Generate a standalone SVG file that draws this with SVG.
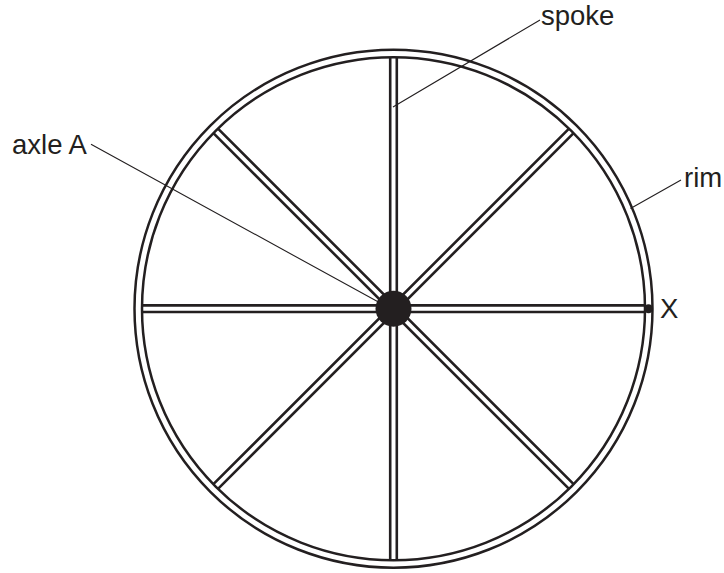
<svg xmlns="http://www.w3.org/2000/svg" width="724" height="573" viewBox="0 0 724 573">
<style>
.r{fill:none;stroke:#231f20;stroke-width:2.5}
.s{stroke:#231f20;stroke-width:2.6;fill:none}
.l{stroke:#231f20;stroke-width:1.1;fill:none}
text{font-family:"Liberation Sans",Arial,sans-serif;font-size:27.5px;fill:#231f20}
</style>
<rect width="724" height="573" fill="#fff"/>
<g id="rim"><circle class="r" cx="393.5" cy="308.7" r="259"/><circle class="r" cx="393.5" cy="308.7" r="251.5"/></g>
<g id="spokes">
<path class="s" d="M390.2 57.2V560.2M396.8 57.2V560.2M142 305.4H645M142 312H645"/>
<path class="s" d="M218 128.6L573.6 484.2M213.4 133.2L569 488.8M569 128.6L213.4 484.2M573.6 133.2L218 488.8"/>
</g>
<g id="connectors">
<path class="l" d="M91 144.3L393 310M540 20L393 107M630.5 208.5L681 180"/>
</g>
<g id="axle"><circle cx="393.5" cy="308.7" r="18" fill="#231f20"/></g>
<g id="point-x"><circle cx="648.5" cy="308.7" r="4.5" fill="#231f20"/></g>
<g id="labels">
<text x="12" y="154">axle A</text>
<text x="541" y="25">spoke</text>
<text x="684" y="187">rim</text>
<text x="660" y="317.500">X</text>
</g>
</svg>
